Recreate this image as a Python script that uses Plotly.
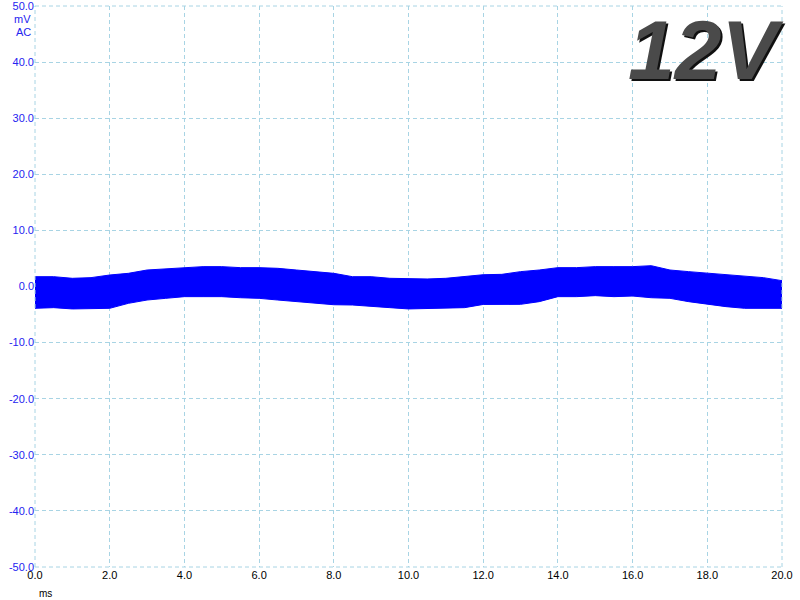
import plotly.graph_objects as go

# time axis (ms) and envelope of the noise band (mV)
time_ms = [0.0, 0.5, 1.0, 1.5, 2.0, 2.5, 3.0, 3.5, 4.0, 4.5, 5.0, 5.5, 6.0, 6.5, 7.0,
           7.5, 8.0, 8.5, 9.0, 9.5, 10.0, 10.5, 11.0, 11.5, 12.0, 12.5, 13.0, 13.5,
           14.0, 14.5, 15.0, 15.5, 16.0, 16.5, 17.0, 17.5, 18.0, 18.5, 19.0, 19.5, 20.0]
upper_mv = [1.75, 1.75, 1.46, 1.58, 2.05, 2.35, 2.94, 3.12, 3.3, 3.54, 3.54, 3.36, 3.36,
            3.24, 2.94, 2.65, 2.35, 1.75, 1.75, 1.46, 1.34, 1.34, 1.46, 1.75, 2.1, 2.17,
            2.65, 2.94, 3.36, 3.36, 3.54, 3.54, 3.54, 3.71, 2.94, 2.65, 2.35, 2.05, 1.75,
            1.58, 1.04]
lower_mv = [-3.89, -3.77, -4.0, -3.89, -3.89, -3.0, -2.41, -2.11, -1.81, -1.81, -1.81,
            -2.0, -2.11, -2.41, -2.7, -3.0, -3.25, -3.3, -3.59, -3.77, -4.0, -3.89, -3.89,
            -3.77, -3.2, -3.18, -3.18, -2.7, -1.81, -1.81, -1.63, -1.81, -1.7, -2.0, -2.11,
            -2.7, -3.18, -3.59, -3.89, -3.89, -3.89]

x_ticks = [0, 2, 4, 6, 8, 10, 12, 14, 16, 18, 20]
x_tick_labels = ["0.0", "2.0", "4.0", "6.0", "8.0", "10.0", "12.0", "14.0", "16.0", "18.0", "20.0"]
y_ticks = [-50, -40, -30, -20, -10, 0, 10, 20, 30, 40, 50]
y_tick_labels = ["-50.0", "-40.0", "-30.0", "-20.0", "-10.0", "0.0", "10.0", "20.0", "30.0", "40.0", "50.0"]

BLUE = "#0000ff"
GRID = "#a8d4e4"
LABEL_BLUE = "#2424f0"

fig = go.Figure()
fig.add_trace(go.Scatter(x=time_ms, y=lower_mv, mode="lines",
                         line=dict(color=BLUE, width=1), showlegend=False, hoverinfo="skip"))
fig.add_trace(go.Scatter(x=time_ms, y=upper_mv, mode="lines", fill="tonexty",
                         fillcolor=BLUE, line=dict(color=BLUE, width=1),
                         showlegend=False, hoverinfo="skip"))

fig.update_layout(
    width=800, height=600,
    margin=dict(l=35, r=18, t=6, b=33),
    paper_bgcolor="white", plot_bgcolor="white",
    font=dict(family="Liberation Sans, Arial, sans-serif", size=11),
    xaxis=dict(range=[0, 20], tickvals=x_ticks, ticktext=x_tick_labels,
               showgrid=True, gridcolor=GRID, griddash="4px,3px", gridwidth=1,
               zeroline=False, showline=False, ticks="", ticklen=0, automargin=False,
               ticklabeloverflow="allow",
               tickfont=dict(color="#000000", size=11)),
    yaxis=dict(range=[-50, 50], tickvals=y_ticks, ticktext=y_tick_labels,
               showgrid=True, gridcolor=GRID, griddash="4px,3px", gridwidth=1,
               zeroline=False, showline=False, ticks="", ticklen=0, automargin=False,
               ticklabeloverflow="allow",
               tickfont=dict(color=LABEL_BLUE, size=11)),
)

# border (dashed, like the grid)
for x0, y0, x1, y1 in [(0, 0, 1, 0), (0, 1, 1, 1), (0, 0, 0, 1), (1, 0, 1, 1)]:
    fig.add_shape(type="line", xref="paper", yref="paper", x0=x0, y0=y0, x1=x1, y1=y1,
                  line=dict(color=GRID, width=1, dash="4px,3px"))

fig.add_annotation(text="mV", xref="paper", yref="paper", x=-0.003, y=0.977,
                   xanchor="right", yanchor="middle", showarrow=False,
                   font=dict(color=LABEL_BLUE, size=11))
fig.add_annotation(text="AC", xref="paper", yref="paper", x=-0.003, y=0.953,
                   xanchor="right", yanchor="middle", showarrow=False,
                   font=dict(color=LABEL_BLUE, size=11))
fig.add_annotation(text="ms", xref="paper", yref="paper", x=0.003, y=-0.048,
                   xanchor="left", yanchor="middle", showarrow=False,
                   font=dict(color="#000000", size=10))

# "12V" label with a shaded look
fig.add_annotation(text="<b><i>12V</i></b>", xref="paper", yref="paper", x=0.897, y=0.922,
                   xanchor="center", yanchor="middle", showarrow=False, xshift=2, yshift=-2,
                   font=dict(family="Liberation Sans, Arial, sans-serif", size=84, color="#101010"))
fig.add_annotation(text="<b><i>12V</i></b>", xref="paper", yref="paper", x=0.897, y=0.922,
                   xanchor="center", yanchor="middle", showarrow=False,
                   font=dict(family="Liberation Sans, Arial, sans-serif", size=84, color="#4a4a4a"))

fig.write_html("out.html", config={"displayModeBar": False},
               post_script="document.body.style.margin='0';")
